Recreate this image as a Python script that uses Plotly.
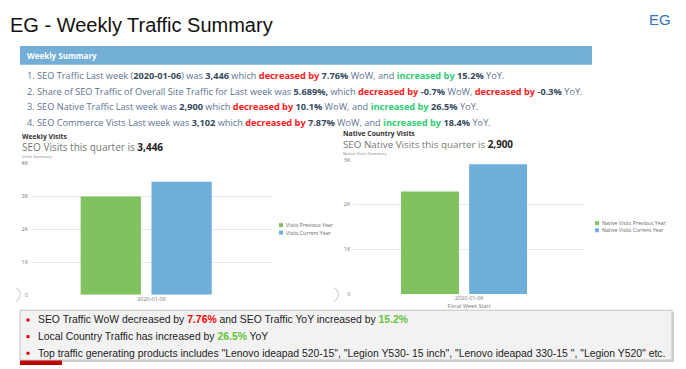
import plotly.graph_objects as go

W, H = 686, 369

# ---------------- data ----------------
week = "2020-01-06"
categories = ["2020-01-06"]
visits_prev = [2991]
visits_curr = [3446]
native_prev = [2292]
native_curr = [2900]
visits_names = ["Visits Previous Year", "Visits Current Year"]
native_names = ["Native Visits Previous Year", "Native Visits Current Year"]
left_ticks = [0, 1000, 2000, 3000, 4000]
left_ticktext = ["0", "1K", "2K", "3K", "4K"]
right_ticks = [0, 1000, 2000, 3000]
right_ticktext = ["0", "1K", "2K", "3K"]

seo_traffic = "3,446"; seo_wow = "7.76%"; seo_yoy = "15.2%"
share = "5.689%"; share_wow = "-0.7%"; share_yoy = "-0.3%"
native_traffic = "2,900"; native_wow = "10.1%"; native_yoy = "26.5%"
commerce = "3,102"; com_wow = "7.87%"; com_yoy = "18.4%"

# ---------------- styles ----------------
GREEN = "#7fc25f"
BLUE = "#6eaed8"
RED_T = "#ff1a1a"
GRN_T = "#2ecc71"
NAVY = "#34495e"
TXT = "#5d7390"
OS = "Open Sans"
AR = "Liberation Sans"


def px(x):
    return x / W


def py(y):
    return 1 - y / H


fig = go.Figure()

offsets = [-0.294, 0.0]
bw = 0.25
for i, (vals, name, col) in enumerate([(visits_prev, visits_names[0], GREEN),
                                       (visits_curr, visits_names[1], BLUE)]):
    fig.add_trace(go.Bar(x=categories, y=vals, name=name, marker_color=col,
                         offset=offsets[i], width=bw, xaxis="x", yaxis="y",
                         showlegend=False, marker_line_width=0))
for i, (vals, name, col) in enumerate([(native_prev, native_names[0], GREEN),
                                       (native_curr, native_names[1], BLUE)]):
    fig.add_trace(go.Bar(x=categories, y=vals, name=name, marker_color=col,
                         offset=offsets[i], width=bw, xaxis="x2", yaxis="y2",
                         showlegend=False, marker_line_width=0))

axis_font = dict(family=OS, size=5.5, color="#777")
fig.update_layout(
    width=W, height=H, margin=dict(l=0, r=0, t=0, b=0),
    paper_bgcolor="white", plot_bgcolor="white", barmode="overlay",
    xaxis=dict(domain=[px(31), px(272)], range=[-0.5, 0.5], showgrid=False,
               showline=False, zeroline=False, ticks="", tickfont=axis_font,
               type="category", fixedrange=True),
    yaxis=dict(domain=[py(297.3), py(163)], range=[0, 4000], tickvals=left_ticks,
               ticktext=left_ticktext, gridcolor="#e8e8e8", gridwidth=1,
               zeroline=False, showline=False, ticks="", tickfont=axis_font,
               ticklabelstandoff=2),
    xaxis2=dict(domain=[px(353.3), px(585)], range=[-0.5, 0.5], showgrid=False,
                showline=False, zeroline=False, ticks="", tickfont=axis_font,
                type="category", anchor="y2",
                title=dict(text="Fiscal Week Start", font=axis_font, standoff=2)),
    yaxis2=dict(domain=[py(296.3), py(159.3)], range=[0, 3000], tickvals=right_ticks,
                ticktext=right_ticktext, gridcolor="#e8e8e8", gridwidth=1,
                zeroline=False, showline=False, ticks="", tickfont=axis_font,
                anchor="x2", ticklabelstandoff=2),
)

shapes = []
ann = []


def text(x, y, s, size, color="#333", family=OS, xanchor="left", pad=0):
    ann.append(dict(x=px(x), y=py(y), xref="paper", yref="paper", text=s,
                    showarrow=False, xanchor=xanchor, yanchor="middle", borderpad=pad,
                    font=dict(family=family, size=size, color=color)))


# Title
text(9, 21, "EG - Weekly Traffic Summary", 20, "#111", AR)
text(672, 16, "EG", 15, "#2f74c0", AR, xanchor="right")

# header bar
shapes.append(dict(type="rect", xref="paper", yref="paper", x0=px(20), x1=px(592),
                   y0=py(62), y1=py(43), fillcolor="#72aed6", line=dict(width=0), layer="below"))
text(26, 52.5, "<b>Weekly Summary</b>", 8, "white")


def b(s):
    return f"<b><span style='color:{NAVY}'>{s}</span></b>"


def red(s):
    return f"<b><span style='color:{RED_T}'>{s}</span></b>"


def grn(s):
    return f"<b><span style='color:{GRN_T}'>{s}</span></b>"


lines = [
    f"1. SEO Traffic Last week ({b(week)}) was {b(seo_traffic)} which {red('decreased by')} {b(seo_wow)} WoW, and {grn('increased by')} {b(seo_yoy)} YoY.",
    f"2. Share of SEO Traffic of Overall Site Traffic for Last week was {b(share + ',')} which {red('decreased by')} {b(share_wow)} WoW, {red('decreased by')} {b(share_yoy)} YoY.",
    f"3. SEO Native Traffic Last week was {b(native_traffic)} which {red('decreased by')} {b(native_wow)} WoW, and {grn('increased by')} {b(native_yoy)} YoY.",
    f"4. SEO Commerce Vists Last week was {b(commerce)} which {red('decreased by')} {b(com_wow)} WoW, and {grn('increased by')} {b(com_yoy)} YoY.",
]
for i, s in enumerate(lines):
    text(26, 73 + i * 16.1, s, 9.2, TXT)

# chart headers
text(21, 135.5, "<b>Weekly Visits</b>", 6.8, "#333")
text(21, 146.5, f"SEO Visits this quarter is <b><span style='color:#222'>{seo_traffic}</span></b>", 10, "#777")
text(21, 155.8, "Visits Summary", 4.2, "#888")

text(342, 132.4, "<b>Native Country Visits</b>", 6.8, "#333")
text(342, 143.6, f"SEO Native Visits this quarter is <b><span style='color:#222'>{native_traffic}</span></b>", 9.8, "#777")
text(342, 152.9, "Native Visits Summary", 4.2, "#888")

# legends (manual, small square symbols)
for i, (nm, col) in enumerate(zip(visits_names, [GREEN, BLUE])):
    yy = 226 + i * 7.7
    shapes.append(dict(type="rect", xref="paper", yref="paper", x0=px(279), x1=px(283),
                       y0=py(yy + 2), y1=py(yy - 2), fillcolor=col, line=dict(width=0)))
    text(284.5, yy, nm, 5.2, "#666")
for i, (nm, col) in enumerate(zip(native_names, [GREEN, BLUE])):
    yy = 224 + i * 7.3
    shapes.append(dict(type="rect", xref="paper", yref="paper", x0=px(595), x1=px(599),
                       y0=py(yy + 2), y1=py(yy - 2), fillcolor=col, line=dict(width=0)))
    text(600.5, yy, nm, 5.2, "#666")

# little nav arcs
for cx in [16, 334]:
    shapes.append(dict(type="path", xref="paper", yref="paper",
                       path=f"M {px(cx)} {py(290)} Q {px(cx + 9)} {py(297)} {px(cx)} {py(304)}",
                       line=dict(color="#dddddd", width=1.5)))

# bottom box with shadow
shapes.append(dict(type="rect", xref="paper", yref="paper", x0=px(22), x1=px(674),
                   y0=py(366), y1=py(315), fillcolor="#d0d0d0", line=dict(width=0)))
shapes.append(dict(type="rect", xref="paper", yref="paper", x0=px(20), x1=px(672),
                   y0=py(364), y1=py(313), fillcolor="#f2f2f2", line=dict(color="#c4c4c4", width=1)))
shapes.append(dict(type="rect", xref="paper", yref="paper", x0=px(20), x1=px(62),
                   y0=py(369), y1=py(364.5), fillcolor="#c00000", line=dict(width=0)))

BGRN = "#66c23a"
bullets = [
    f"SEO Traffic WoW decreased by <b><span style='color:#ff0000'>{seo_wow}</span></b> and SEO Traffic YoY increased by <b><span style='color:{BGRN}'>{seo_yoy}</span></b>",
    f"Local Country Traffic has increased by <b><span style='color:{BGRN}'>{native_yoy}</span></b> YoY",
    "Top traffic generating products includes \"Lenovo ideapad 520-15\", \"Legion Y530- 15 inch\", \"Lenovo ideapad 330-15 \", \"Legion Y520\" etc.",
]
for i, s in enumerate(bullets):
    yy = 323 + i * 17
    shapes.append(dict(type="rect", xref="paper", yref="paper", x0=px(26.5), x1=px(29.5),
                       y0=py(yy + 1.5), y1=py(yy - 1.5), fillcolor="#e00000", line=dict(width=0)))
    text(37, yy, s, 10.4, "#222", AR)

fig.update_layout(shapes=shapes, annotations=ann)
fig.write_html("out.html", config={"displayModeBar": False},
               post_script="document.body.style.margin='0';document.body.style.overflow='hidden';")
